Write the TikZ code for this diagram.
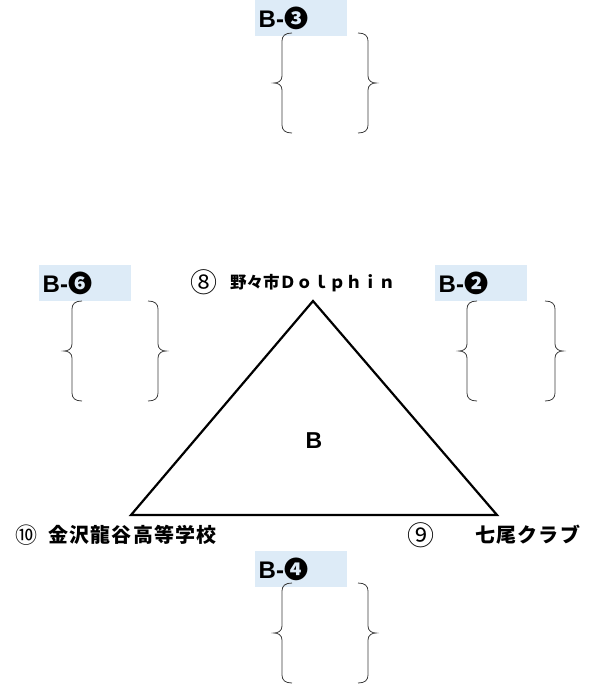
\documentclass[tikz,border=0pt]{standalone}
\usepackage{fontspec}
\setmainfont{Liberation Sans}
\newfontfamily\jp{Noto Sans CJK JP}
\definecolor{boxblue}{RGB}{221,235,247}
\definecolor{bracegray}{RGB}{60,60,60}
\begin{document}
\begin{tikzpicture}[x=1pt,y=-1pt,
  box/.style={fill=boxblue, minimum height=36pt, text width=85pt, inner xsep=3.5pt, inner ysep=0pt, align=left, anchor=north west, font=\fontsize{24}{24}\selectfont\bfseries},
  brace/.style={draw=bracegray, line width=0.8pt},
  lbr/.pic={\draw[brace] (10,-50) .. controls (3,-50) and (0,-47) .. (0,-42) -- (0,-7) .. controls (0,-2) and (-4,0) .. (-8,0) .. controls (-4,0) and (0,2) .. (0,7) -- (0,42) .. controls (0,47) and (3,50) .. (10,50);},
  lbl/.style={anchor=west, inner sep=0pt, font=\jp\bfseries\fontsize{20}{20}\selectfont},
  num/.style={inner sep=0pt, font=\jp\fontsize{27}{27}\selectfont},
  tri/.style={draw=black, line width=2.2pt, line join=miter}
]
\useasboundingbox (0,0) rectangle (613,688);
% boxes
\node[box] (b3) at (255,0) {B-{\jp ❸}};
\node[box] (b6) at (39,265) {B-{\jp ❻}};
\node[box] (b2) at (435,265) {B-{\jp ❷}};
\node[box] (b4) at (255,551) {B-{\jp ❹}};
% braces
\pic at (282,83) {lbr};
\pic[xscale=-1] at (368,83) {lbr};
\pic at (72,351) {lbr};
\pic[xscale=-1] at (158,351) {lbr};
\pic at (467,351) {lbr};
\pic[xscale=-1] at (555,351) {lbr};
\pic at (282,633) {lbr};
\pic[xscale=-1] at (368,633) {lbr};
% triangle
\coordinate (A) at (313,301);
\coordinate (L) at (131,515);
\coordinate (R) at (497,515);
\draw[tri] (A) -- (L) -- (R) -- cycle;
\node[font=\bfseries\fontsize{23}{23}\selectfont] (bc) at (314,441) {B};
% labels
\node[num] (n8) at (204,282) {⑧};
\node[lbl, font=\jp\bfseries\fontsize{16.5}{16.5}\selectfont] (t8) at (230,283) {野々市Ｄｏｌｐｈｉｎ};
\node[num, font=\jp\fontsize{22}{22}\selectfont] (n10) at (26,535) {⑩};
\node[lbl] (t10) at (48,535) {\addfontfeatures{LetterSpace=6}金沢龍谷高等学校};
\node[num] (n9) at (421,535) {⑨};
\node[lbl] (t9) at (475,535) {\addfontfeatures{LetterSpace=6}七尾クラブ};
\end{tikzpicture}
\end{document}
